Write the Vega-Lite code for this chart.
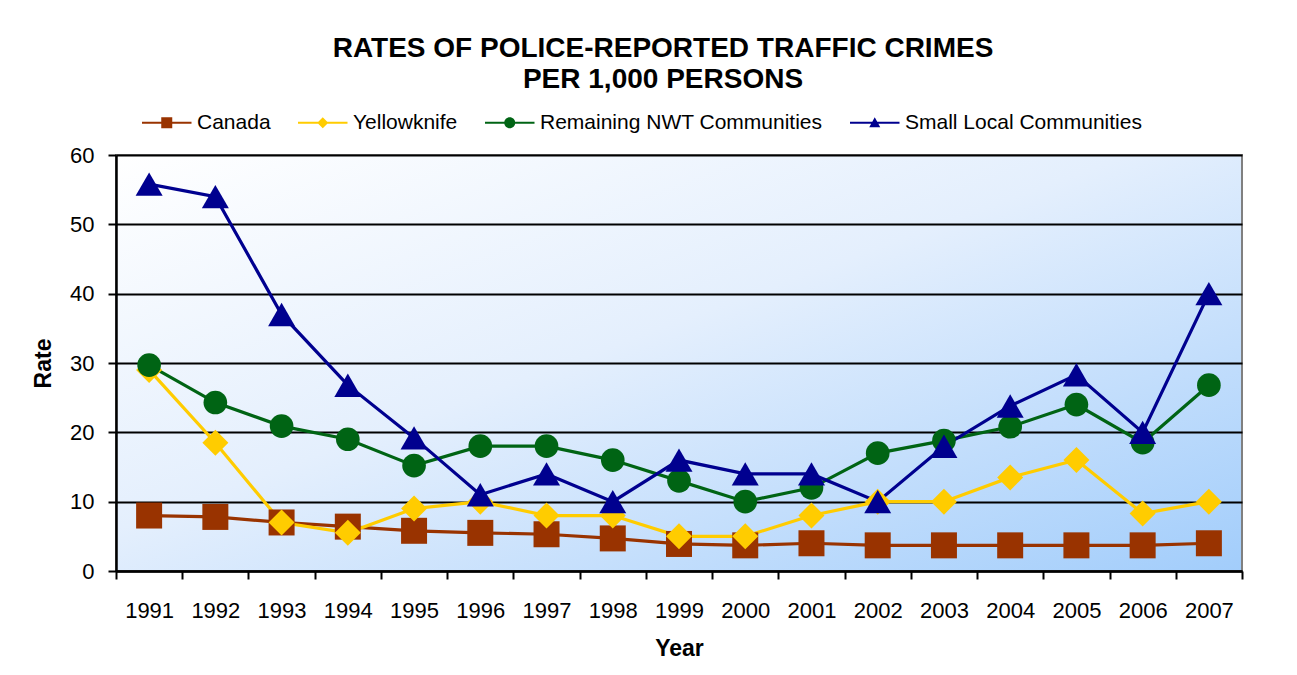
{
  "$schema": "https://vega.github.io/schema/vega-lite/v6.json",
  "width": 1126,
  "height": 416,
  "autosize": {"type": "none"},
  "padding": {"left": 116, "top": 155, "right": 55, "bottom": 104},
  "background": "#ffffff",
  "title": {
    "text": ["RATES OF POLICE-REPORTED TRAFFIC CRIMES", "PER 1,000 PERSONS"],
    "font": "Liberation Sans",
    "fontSize": 28,
    "fontWeight": "bold",
    "color": "#000000",
    "anchor": "middle",
    "frame": "group",
    "dx": -16,
    "lineHeight": 31,
    "offset": 18
  },
  "config": {
    "font": "Liberation Sans",
    "view": {
      "stroke": "#808080",
      "strokeWidth": 2,
      "fill": {
        "gradient": "linear",
        "x1": 0, "y1": 0, "x2": 1, "y2": 1,
        "stops": [
          {"offset": 0, "color": "#ffffff"},
          {"offset": 0.45, "color": "#e4effd"},
          {"offset": 1, "color": "#a2cdfb"}
        ]
      }
    },
    "axis": {
      "labelFont": "Liberation Sans",
      "titleFont": "Liberation Sans",
      "labelColor": "#000000",
      "titleColor": "#000000",
      "labelFontSize": 22,
      "titleFontSize": 23,
      "titleFontWeight": "bold",
      "domainColor": "#000000",
      "domainWidth": 2.5,
      "tickColor": "#000000",
      "tickWidth": 2,
      "tickSize": 8
    }
  },
  "data": {
    "values": [
      {"year": "1991", "series": "Canada", "rate": 8.0},
      {"year": "1992", "series": "Canada", "rate": 7.8},
      {"year": "1993", "series": "Canada", "rate": 7.0},
      {"year": "1994", "series": "Canada", "rate": 6.4},
      {"year": "1995", "series": "Canada", "rate": 5.8},
      {"year": "1996", "series": "Canada", "rate": 5.5},
      {"year": "1997", "series": "Canada", "rate": 5.3},
      {"year": "1998", "series": "Canada", "rate": 4.7},
      {"year": "1999", "series": "Canada", "rate": 3.9},
      {"year": "2000", "series": "Canada", "rate": 3.7},
      {"year": "2001", "series": "Canada", "rate": 4.0},
      {"year": "2002", "series": "Canada", "rate": 3.7},
      {"year": "2003", "series": "Canada", "rate": 3.7},
      {"year": "2004", "series": "Canada", "rate": 3.7},
      {"year": "2005", "series": "Canada", "rate": 3.7},
      {"year": "2006", "series": "Canada", "rate": 3.7},
      {"year": "2007", "series": "Canada", "rate": 4.0},
      {"year": "1991", "series": "Yellowknife", "rate": 29.0},
      {"year": "1992", "series": "Yellowknife", "rate": 18.5},
      {"year": "1993", "series": "Yellowknife", "rate": 7.0},
      {"year": "1994", "series": "Yellowknife", "rate": 5.5},
      {"year": "1995", "series": "Yellowknife", "rate": 9.0},
      {"year": "1996", "series": "Yellowknife", "rate": 10.0},
      {"year": "1997", "series": "Yellowknife", "rate": 8.0},
      {"year": "1998", "series": "Yellowknife", "rate": 8.0},
      {"year": "1999", "series": "Yellowknife", "rate": 5.0},
      {"year": "2000", "series": "Yellowknife", "rate": 5.0},
      {"year": "2001", "series": "Yellowknife", "rate": 8.0},
      {"year": "2002", "series": "Yellowknife", "rate": 10.0},
      {"year": "2003", "series": "Yellowknife", "rate": 10.0},
      {"year": "2004", "series": "Yellowknife", "rate": 13.5},
      {"year": "2005", "series": "Yellowknife", "rate": 16.0},
      {"year": "2006", "series": "Yellowknife", "rate": 8.3},
      {"year": "2007", "series": "Yellowknife", "rate": 10.0},
      {"year": "1991", "series": "Remaining NWT Communities", "rate": 29.7},
      {"year": "1992", "series": "Remaining NWT Communities", "rate": 24.3},
      {"year": "1993", "series": "Remaining NWT Communities", "rate": 20.9},
      {"year": "1994", "series": "Remaining NWT Communities", "rate": 19.0},
      {"year": "1995", "series": "Remaining NWT Communities", "rate": 15.2},
      {"year": "1996", "series": "Remaining NWT Communities", "rate": 18.0},
      {"year": "1997", "series": "Remaining NWT Communities", "rate": 18.0},
      {"year": "1998", "series": "Remaining NWT Communities", "rate": 16.0},
      {"year": "1999", "series": "Remaining NWT Communities", "rate": 13.0},
      {"year": "2000", "series": "Remaining NWT Communities", "rate": 10.0},
      {"year": "2001", "series": "Remaining NWT Communities", "rate": 12.0},
      {"year": "2002", "series": "Remaining NWT Communities", "rate": 17.0},
      {"year": "2003", "series": "Remaining NWT Communities", "rate": 18.8},
      {"year": "2004", "series": "Remaining NWT Communities", "rate": 20.8},
      {"year": "2005", "series": "Remaining NWT Communities", "rate": 24.0},
      {"year": "2006", "series": "Remaining NWT Communities", "rate": 18.5},
      {"year": "2007", "series": "Remaining NWT Communities", "rate": 26.8},
      {"year": "1991", "series": "Small Local Communities", "rate": 55.8},
      {"year": "1992", "series": "Small Local Communities", "rate": 54.0},
      {"year": "1993", "series": "Small Local Communities", "rate": 37.0},
      {"year": "1994", "series": "Small Local Communities", "rate": 26.8},
      {"year": "1995", "series": "Small Local Communities", "rate": 19.2},
      {"year": "1996", "series": "Small Local Communities", "rate": 11.0},
      {"year": "1997", "series": "Small Local Communities", "rate": 14.0},
      {"year": "1998", "series": "Small Local Communities", "rate": 10.0},
      {"year": "1999", "series": "Small Local Communities", "rate": 16.0},
      {"year": "2000", "series": "Small Local Communities", "rate": 14.0},
      {"year": "2001", "series": "Small Local Communities", "rate": 14.0},
      {"year": "2002", "series": "Small Local Communities", "rate": 10.0},
      {"year": "2003", "series": "Small Local Communities", "rate": 18.0},
      {"year": "2004", "series": "Small Local Communities", "rate": 23.8},
      {"year": "2005", "series": "Small Local Communities", "rate": 28.3},
      {"year": "2006", "series": "Small Local Communities", "rate": 20.0},
      {"year": "2007", "series": "Small Local Communities", "rate": 40.0}
    ]
  },
  "encoding": {
    "x": {
      "field": "year",
      "type": "ordinal",
      "scale": {"type": "band", "paddingInner": 0, "paddingOuter": 0},
      "axis": {
        "title": "Year",
        "labelAngle": 0,
        "tickBand": "extent",
        "grid": false,
        "labelPadding": 21,
        "titlePadding": 16
      }
    },
    "y": {
      "field": "rate",
      "type": "quantitative",
      "scale": {"domain": [0, 60], "nice": false},
      "axis": {
        "title": "Rate",
        "values": [0, 10, 20, 30, 40, 50, 60],
        "grid": true,
        "gridColor": "#000000",
        "gridWidth": 2,
        "labelPadding": 14,
        "titlePadding": 14
      }
    },
    "color": {
      "field": "series",
      "type": "nominal",
      "scale": {
        "domain": ["Canada", "Yellowknife", "Remaining NWT Communities", "Small Local Communities"],
        "range": ["#993300", "#ffcc00", "#006414", "#00008f"]
      },
      "legend": {
        "title": null,
        "orient": "none",
        "direction": "horizontal",
        "legendX": 21,
        "legendY": -43,
        "padding": 0,
        "labelFont": "Liberation Sans",
        "labelFontSize": 21,
        "labelColor": "#000000",
        "labelLimit": 0,
        "symbolSize": 121,
        "labelOffset": 39,
        "columnPadding": 22,
        "symbolStrokeWidth": 0,
        "encode": {
          "symbols": {
            "update": {
              "shape": {"signal": "datum.value === 'Canada' ? 'M-1,-0.18H8V0.18H-1Z M2.5,-1H4.5V1H2.5Z' : datum.value === 'Yellowknife' ? 'M-1,-0.18H8V0.18H-1Z M3.5,-1L4.5,0L3.5,1L2.5,0Z' : datum.value === 'Remaining NWT Communities' ? 'M-1,-0.18H8V0.18H-1Z M2.5,0A1,1 0 1,1 4.5,0A1,1 0 1,1 2.5,0Z' : 'M-1,-0.18H8V0.18H-1Z M3.5,-1L4.5,0.8L2.5,0.8Z'"},
              "fill": {"signal": "scale('color', datum.value)"},
              "fillOpacity": {"value": 1},
              "stroke": {"value": "transparent"},
              "size": {"value": 121}
            }
          }
        }
      }
    }
  },
  "layer": [
    {
      "mark": {"type": "line", "strokeWidth": 3.2}
    },
    {
      "transform": [{"filter": "datum.series === 'Canada'"}],
      "mark": {"type": "point", "filled": true, "opacity": 1, "shape": "square", "size": 676}
    },
    {
      "transform": [{"filter": "datum.series === 'Yellowknife'"}],
      "mark": {"type": "point", "filled": true, "opacity": 1, "shape": "diamond", "size": 676}
    },
    {
      "transform": [{"filter": "datum.series === 'Remaining NWT Communities'"}],
      "mark": {"type": "point", "filled": true, "opacity": 1, "shape": "circle", "size": 560}
    },
    {
      "transform": [{"filter": "datum.series === 'Small Local Communities'"}],
      "mark": {"type": "point", "filled": true, "opacity": 1, "shape": "triangle-up", "size": 729}
    }
  ]
}
